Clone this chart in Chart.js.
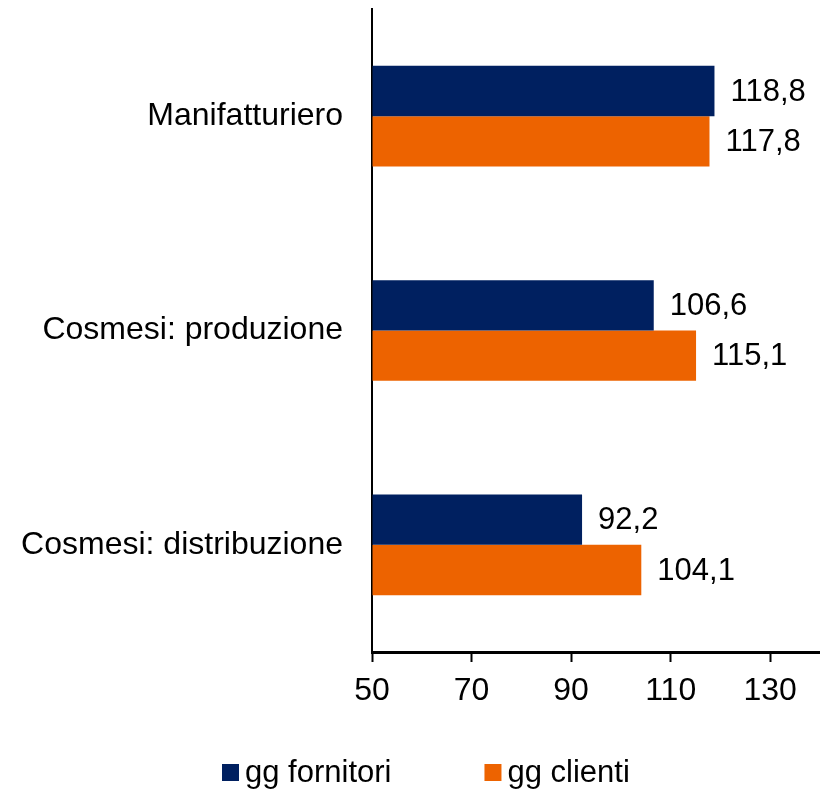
<!DOCTYPE html>
<html>
<head>
<meta charset="utf-8">
<script src="https://cdn.jsdelivr.net/npm/chart.js@4.4.1/dist/chart.umd.min.js"></script>
<style>
  html,body{margin:0;padding:0;background:#fff;}
  #wrap{width:820px;height:792px;}
</style>
</head>
<body>
<div id="wrap"><canvas id="c"></canvas></div>
<script>
// --- Data ---
const categories = ['Manifatturiero', 'Cosmesi: produzione', 'Cosmesi: distribuzione'];
const seriesNames = ['gg fornitori', 'gg clienti'];
const fornitori = [118.8, 106.6, 92.2];
const clienti = [117.8, 115.1, 104.1];
const xTicks = [50, 70, 90, 110, 130];

const NAVY = '#002060', ORANGE = '#ED6300';
const FONT = 'Liberation Sans, Arial, sans-serif';

const fmt = v => v.toFixed(1).replace('.', ',');

// --- value labels at bar ends ---
const barLabels = {
  id: 'barLabels',
  afterDatasetsDraw(chart){
    const ctx = chart.ctx;
    ctx.save();
    ctx.font = '31px ' + FONT;
    ctx.fillStyle = '#000';
    ctx.textAlign = 'left';
    ctx.textBaseline = 'middle';
    chart.data.datasets.forEach((ds, i) => {
      chart.getDatasetMeta(i).data.forEach((bar, j) => {
        ctx.fillText(fmt(ds.data[j]), bar.x + 16, bar.y + 1);
      });
    });
    ctx.restore();
  }
};

// --- legend at the bottom ---
const bottomLegend = {
  id: 'bottomLegend',
  afterDraw(chart){
    const ctx = chart.ctx;
    ctx.save();
    ctx.font = '31px ' + FONT;
    ctx.textBaseline = 'middle';
    ctx.textAlign = 'left';
    let x = 222;
    const y = 772;
    chart.data.datasets.forEach(ds => {
      ctx.fillStyle = ds.backgroundColor;
      ctx.fillRect(x, y - 8, 17, 17);
      ctx.fillStyle = '#000';
      ctx.fillText(ds.label, x + 23, y + 1);
      x += 23 + ctx.measureText(ds.label).width + 93;
    });
    ctx.restore();
  }
};

new Chart(document.getElementById('c'), {
  type: 'bar',
  data: {
    labels: categories,
    datasets: [
      {label: seriesNames[0], data: fornitori, backgroundColor: NAVY},
      {label: seriesNames[1], data: clienti, backgroundColor: ORANGE}
    ]
  },
  options: {
    indexAxis: 'y',
    responsive: true,
    maintainAspectRatio: false,
    animation: false,
    layout: {padding: {top: 9, right: 0, bottom: 60, left: 0}},
    datasets: {bar: {categoryPercentage: 0.47, barPercentage: 1, base: 50}},
    plugins: {legend: {display: false}, tooltip: {enabled: false}},
    scales: {
      x: {
        min: 50, max: 140,
        afterBuildTicks: s => { s.ticks = xTicks.map(v => ({value: v})); },
        afterFit: s => { s.height = 80; s.paddingLeft = 0; s.paddingRight = 0; },
        grid: {drawOnChartArea: false, drawTicks: true, tickLength: 10, tickColor: '#000', tickWidth: 2},
        border: {display: true, color: '#000', width: 3},
        ticks: {color: '#000', padding: 10, font: {family: FONT, size: 32}}
      },
      y: {
        afterFit: s => { s.width = 372; s.paddingTop = 0; s.paddingBottom = 0; },
        grid: {display: false, drawTicks: false},
        border: {display: true, color: '#000', width: 2},
        ticks: {color: '#000', padding: 29, font: {family: FONT, size: 32}}
      }
    }
  },
  plugins: [barLabels, bottomLegend]
});
</script>
</body>
</html>
